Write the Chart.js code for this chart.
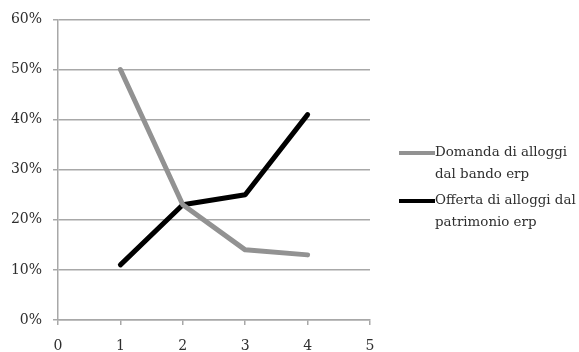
<!DOCTYPE html>
<html>
<head>
<meta charset="utf-8">
<script src="https://cdn.jsdelivr.net/npm/chart.js@4"></script>
<style>
  html, body { margin: 0; padding: 0; background: #fff; }
  #wrap { width: 579px; height: 352px; }
</style>
</head>
<body>
<div id="wrap"><canvas id="lineChart"></canvas></div>
<script>
// data
let xValues = [1, 2, 3, 4];
let domanda = [50, 23, 14, 13];
let offerta = [11, 23, 25, 41];
let yTicks = [0, 10, 20, 30, 40, 50, 60];
let xTicks = [0, 1, 2, 3, 4, 5];
let seriesNames = [
  ["Domanda di alloggi", "dal bando erp"],
  ["Offerta di alloggi dal", "patrimonio erp"],
];

let font = "'DejaVu Serif', serif";

// legend drawn on the right, with wrapped labels
let sideLegend = {
  id: "sideLegend",
  afterDraw(chart) {
    let c = chart.ctx;
    let area = chart.chartArea;
    let x0 = area.right + 29;
    let ys = [153, 201];
    c.save();
    chart.data.datasets.forEach((ds, i) => {
      let y = ys[i];
      c.strokeStyle = ds.borderColor;
      c.lineWidth = 4;
      c.beginPath();
      c.moveTo(x0, y);
      c.lineTo(x0 + 36, y);
      c.stroke();
      c.fillStyle = "#2e2e2e";
      c.font = "13.4px " + font;
      c.textBaseline = "middle";
      seriesNames[i].forEach((line, j) => {
        c.fillText(line, x0 + 36, y + j * 22);
      });
    });
    c.restore();
  },
};

let ctx = document.getElementById("lineChart");

new Chart(ctx, {
  type: "line",
  data: {
    datasets: [
      {
        label: seriesNames[0].join(" "),
        data: xValues.map((x, i) => ({ x: x, y: domanda[i] })),
        borderColor: "#929292",
        borderWidth: 5,
      },
      {
        label: seriesNames[1].join(" "),
        data: xValues.map((x, i) => ({ x: x, y: offerta[i] })),
        borderColor: "#000000",
        borderWidth: 5,
      },
    ],
  },
  options: {
    responsive: true,
    maintainAspectRatio: false,
    animation: false,
    events: [],
    layout: { padding: { top: 13, right: 209, left: 0, bottom: 0 } },
    elements: {
      point: { radius: 0 },
      line: { borderCapStyle: "round", borderJoinStyle: "round", tension: 0 },
    },
    plugins: {
      legend: { display: false },
      tooltip: { enabled: false },
    },
    scales: {
      x: {
        type: "linear",
        min: 0,
        max: 5,
        afterBuildTicks: (s) => { s.ticks = xTicks.map((v) => ({ value: v })); },
        afterFit: (s) => { s.height = 32; },
        grid: { drawOnChartArea: false, drawTicks: true, tickLength: 5, color: "#a8a8a8", lineWidth: 1.5 },
        border: { display: true, color: "#a8a8a8", width: 1.5 },
        ticks: { color: "#2e2e2e", padding: 13, font: { family: font, size: 14 } },
      },
      y: {
        min: 0,
        max: 60,
        afterBuildTicks: (s) => { s.ticks = yTicks.map((v) => ({ value: v })); },
        afterFit: (s) => { s.width = 58; },
        grid: { drawTicks: true, tickLength: 5, color: "#a8a8a8", lineWidth: 1.5 },
        border: { display: true, color: "#a8a8a8", width: 1.5 },
        ticks: {
          color: "#2e2e2e",
          padding: 11,
          font: { family: font, size: 14 },
          callback: (v) => v + "%",
        },
      },
    },
  },
  plugins: [sideLegend],
});
</script>
</body>
</html>
